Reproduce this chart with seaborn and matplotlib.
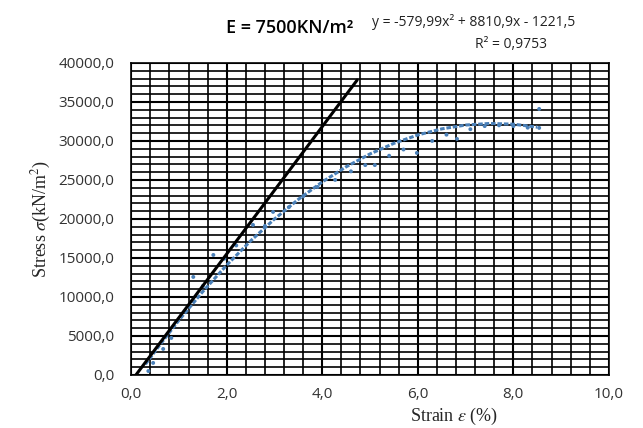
import numpy as np
import pandas as pd
import matplotlib
matplotlib.use("Agg")
import matplotlib.pyplot as plt
import seaborn as sns
from matplotlib.ticker import MultipleLocator, FuncFormatter

# measured data points (strain %, stress kN/m2)
strain = [0.36, 0.46, 0.67, 0.84, 1.05, 1.30, 1.50, 1.72, 1.95, 2.20, 2.55, 2.80, 2.97,
          3.30, 3.60, 3.90, 4.27, 4.60, 4.90, 5.10, 5.40, 5.70, 5.98, 6.30, 6.60, 6.82,
          7.10, 7.40, 7.70, 8.00, 8.30, 8.54, 8.54]
stress = [500, 1540, 3330, 4740, 7600, 12560, 11400, 15380, 14900, 16600, 19230, 19100, 20900,
          21500, 22900, 24100, 25000, 26100, 26900, 26900, 28100, 28900, 28460, 30000, 30800, 30260,
          31500, 31900, 32000, 31900, 31700, 34100, 31670]

# polynomial trendline coefficients
poly = [-579.99, 8810.9, -1221.5]
trend_x = [0.30, 0.6, 1.0, 1.5, 2.0, 2.5, 3.0, 3.5, 4.0, 4.5, 5.0, 5.5, 6.0, 6.5, 7.0, 7.5, 8.0, 8.5]

# elastic modulus line endpoints
e_x = [0.1, 4.73]
e_y = [0, 37800]

xticks = [0, 2, 4, 6, 8, 10]
yticks = [0, 5000, 10000, 15000, 20000, 25000, 30000, 35000, 40000]

sns.set_theme(style="white")
plt.rcParams['mathtext.fontset'] = 'stix'

fig = plt.figure(figsize=(6.43, 4.28), dpi=100)
ax = fig.add_axes([0.204, 0.124, 0.743, 0.729])

df = pd.DataFrame({"x": strain, "y": stress})
tx = np.array(trend_x)
ty = np.polyval(poly, tx)
tdf = pd.DataFrame({"x": tx, "y": ty})
edf = pd.DataFrame({"x": e_x, "y": e_y})

ax.set_xlim(0, 10)
ax.set_ylim(0, 40000)
ax.xaxis.set_major_locator(MultipleLocator(2))
ax.xaxis.set_minor_locator(MultipleLocator(0.4))
ax.yaxis.set_major_locator(MultipleLocator(5000))
ax.yaxis.set_minor_locator(MultipleLocator(1000))
ax.grid(True, which='major', color='black', lw=1.5)
ax.grid(True, which='minor', color='black', lw=1.2)
ax.set_axisbelow(True)

sns.lineplot(data=tdf, x="x", y="y", ax=ax, color="#4a80b8", lw=2.2,
             linestyle=(0, (1.5, 0.6)), zorder=3)
sns.scatterplot(data=df, x="x", y="y", ax=ax, color="#4a80b8", s=8,
                edgecolor="none", zorder=4)
sns.lineplot(data=edf, x="x", y="y", ax=ax, color="black", lw=2.2, zorder=5)

fmt = FuncFormatter(lambda v, p: f"{v:.1f}".replace(".", ","))
ax.xaxis.set_major_formatter(fmt)
ax.yaxis.set_major_formatter(fmt)
ax.set_xticks(xticks)
ax.set_yticks(yticks)
ax.tick_params(axis='both', which='both', length=0, labelsize=11, colors='#333333')
ax.tick_params(axis='x', pad=9)
ax.tick_params(axis='y', pad=12)
for lab in ax.get_xticklabels() + ax.get_yticklabels():
    lab.set_family("Open Sans")

for s in ax.spines.values():
    s.set_color('black')
    s.set_linewidth(1.2)

ax.set_xlabel(r"Strain $\mathit{\varepsilon}$ (%)", family="Liberation Serif", fontsize=13, labelpad=4)
ax.set_ylabel(r"Stress $\mathit{\sigma}$(kN/m$^2$)", family="Liberation Serif", fontsize=13, labelpad=4)
ax.xaxis.set_label_coords(0.675, -0.1)

fig.text(0.451, 0.935, "E = 7500KN/m²", family="Open Sans", fontsize=13, fontweight='semibold',
         ha='center', va='center', color='black')
fig.text(0.737, 0.948, "y = -579,99x² + 8810,9x - 1221,5", family="Open Sans", fontsize=10,
         ha='center', va='center', color='#222222')
fig.text(0.795, 0.896, "R² = 0,9753", family="Open Sans", fontsize=10,
         ha='center', va='center', color='#222222')

fig.savefig("out.png", dpi=100)
